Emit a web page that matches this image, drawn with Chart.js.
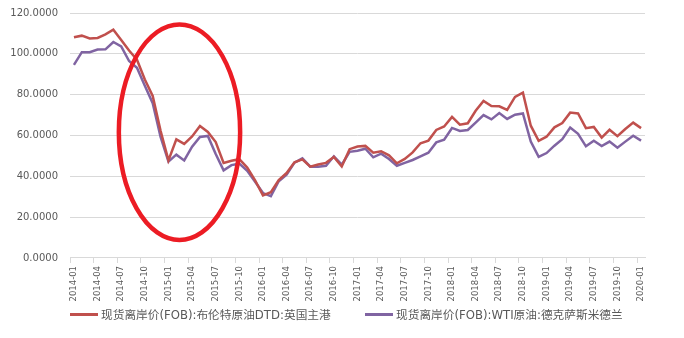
<!DOCTYPE html>
<html>
<head>
<meta charset="utf-8">
<script src="https://cdn.jsdelivr.net/npm/chart.js@4/dist/chart.umd.min.js"></script>
<style>
  html, body { margin: 0; padding: 0; background: #fff; }
  #wrap { position: relative; width: 684px; height: 338px; }
  #legend { position: absolute; left: 0; top: 306px; width: 684px; height: 18px;
            font: 11.7px 'DejaVu Sans', 'Noto Sans CJK SC', sans-serif; color: #595959; }
  #legend .item { position: absolute; top: 0; white-space: nowrap; line-height: 18px; }
  #legend .line { display: inline-block; width: 28px; height: 3px; vertical-align: middle; margin-right: 3px; position: relative; top: -1px; }
</style>
</head>
<body>
<div id="wrap">
  <canvas id="myChart" width="684" height="338"></canvas>
  <div id="legend"></div>
</div>
<script>
// monthly 2014-01 .. 2020-01
const months = [];
for (let y = 2014; y <= 2020; y++) {
    for (let m = 1; m <= 12; m++) {
        if (y === 2020 && m > 1) break;
        months.push(`${y}-${String(m).padStart(2, '0')}`);
    }
}

const brent = [
    108.1, 108.9, 107.5, 107.8, 109.5, 111.8, 106.8, 101.6, 97.1, 87.4, 79.4, 62.3,
    47.8, 58.1, 55.9, 59.5, 64.6, 61.7, 56.8, 46.5, 47.6, 48.4, 44.3, 38.0,
    30.7, 32.2, 38.2, 41.6, 46.9, 48.3, 44.7, 45.8, 46.6, 49.5, 44.8, 53.3,
    54.6, 54.9, 51.6, 52.3, 50.3, 46.4, 48.5, 51.7, 56.2, 57.5, 62.7, 64.4,
    69.1, 65.3, 66.0, 72.1, 76.9, 74.4, 74.3, 72.5, 78.9, 81.0, 64.8, 57.4,
    59.4, 64.0, 66.1, 71.2, 70.8, 63.6, 64.2, 59.0, 62.8, 59.7, 63.2, 66.3,
    63.6
];

const wti = [
    94.6, 100.8, 100.8, 102.1, 102.2, 105.8, 103.6, 96.5, 93.2, 84.4, 75.8, 59.3,
    47.2, 50.6, 47.8, 54.5, 59.3, 59.8, 50.9, 42.9, 45.5, 46.2, 42.7, 37.3,
    31.8, 30.3, 37.6, 40.8, 46.7, 48.8, 44.7, 44.7, 45.2, 49.8, 45.7, 52.0,
    52.5, 53.5, 49.3, 51.1, 48.5, 45.2, 46.6, 48.0, 49.8, 51.6, 56.6, 57.9,
    63.7, 62.2, 62.7, 66.3, 70.0, 67.9, 71.0, 68.1, 70.2, 70.8, 57.0, 49.5,
    51.4, 55.0, 58.2, 63.9, 60.8, 54.7, 57.4, 54.8, 57.0, 54.0, 57.0, 59.9,
    57.5
];

const seriesNames = ['现货离岸价(FOB):布伦特原油DTD:英国主港', '现货离岸价(FOB):WTI原油:德克萨斯米德兰'];
const seriesColors = ['#c0504d', '#8064a2'];
const yTicks = [0, 20, 40, 60, 80, 100, 120];

// hand-drawn red circle around 2015 (category index / value space)
const circleMark = { cx: 13.4, cy: 61.6, rx: 7.7, ry: 52.8 };

const textColor = '#595959';
const gridColor = '#d9d9d9';
const font = "'DejaVu Sans', 'Noto Sans CJK SC', sans-serif";

const ellipsePlugin = {
    id: 'ellipse',
    afterDatasetsDraw(chart) {
        const x = chart.scales.x, y = chart.scales.y;
        const cx = x.getPixelForValue(circleMark.cx);
        const cy = y.getPixelForValue(circleMark.cy);
        const rx = Math.abs(x.getPixelForValue(circleMark.cx + circleMark.rx) - cx);
        const ry = Math.abs(y.getPixelForValue(circleMark.cy + circleMark.ry) - cy);
        const ctx = chart.ctx;
        ctx.save();
        ctx.beginPath();
        ctx.ellipse(cx, cy, rx, ry, 0, 0, Math.PI * 2);
        ctx.lineWidth = 4.5;
        ctx.strokeStyle = '#ec1c24';
        ctx.stroke();
        ctx.restore();
    }
};

// scales ask for extra room for their labels, we place the plot ourselves
const noPad = scale => {
    scale.paddingTop = 0;
    scale.paddingBottom = 0;
    scale.paddingLeft = 0;
    scale.paddingRight = 0;
};

const data = {
    labels: months,
    datasets: [brent, wti].map((d, i) => ({
        label: seriesNames[i],
        data: d,
        borderColor: seriesColors[i],
        backgroundColor: seriesColors[i],
        borderWidth: 2.5,
        pointRadius: 0,
        tension: 0
    }))
};

const config = {
    type: 'line',
    data,
    options: {
        responsive: false,
        animation: false,
        layout: { padding: { left: 8, right: 39, top: 13, bottom: 33.5 } },
        plugins: {
            tooltip: { enabled: false },
            legend: { display: false }
        },
        scales: {
            x: {
                offset: true,
                afterFit: noPad,
                grid: {
                    offset: true,
                    drawOnChartArea: false,
                    drawTicks: true,
                    tickLength: 5,
                    color: ctx => (ctx.index % 3 === 0 ? gridColor : 'rgba(0,0,0,0)')
                },
                border: { display: true, color: gridColor },
                ticks: {
                    autoSkip: false,
                    maxRotation: 90,
                    minRotation: 90,
                    color: textColor,
                    font: { family: font, size: 8.5 },
                    padding: 3,
                    callback: (v, i) => (i % 3 === 0 ? months[i] : '')
                }
            },
            y: {
                min: 0,
                max: 120,
                afterFit: scale => { noPad(scale); scale.width = 62; },
                afterBuildTicks: scale => { scale.ticks = yTicks.map(v => ({ value: v })); },
                grid: { color: gridColor, drawTicks: false },
                border: { display: false },
                ticks: {
                    color: textColor,
                    font: { family: font, size: 10 },
                    padding: 12,
                    callback: v => Number(v).toFixed(4)
                }
            }
        }
    },
    plugins: [ellipsePlugin]
};

const myChart = new Chart(document.getElementById('myChart'), config);

// legend as real text under the chart
const legendLeft = [70, 365];
const legend = document.getElementById('legend');
seriesNames.forEach((name, i) => {
    const item = document.createElement('span');
    item.className = 'item';
    item.style.left = legendLeft[i] + 'px';
    item.innerHTML = `<span class="line" style="background:${seriesColors[i]}"></span>${name}`;
    legend.appendChild(item);
});
</script>
</body>
</html>
